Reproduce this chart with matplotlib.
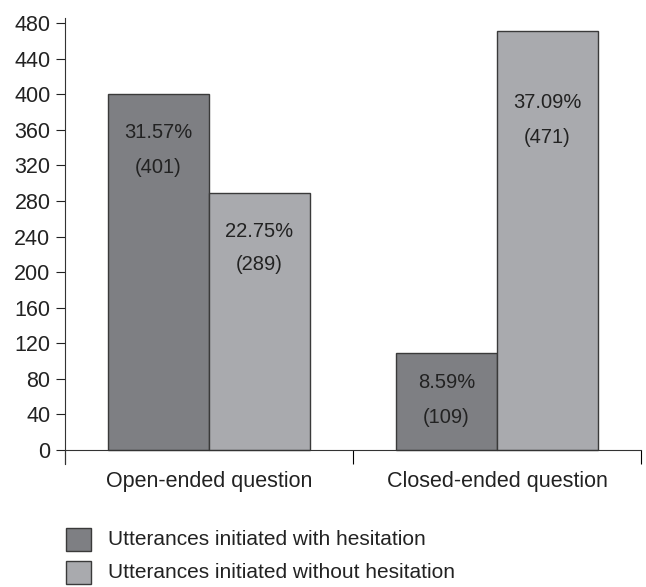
import numpy as np
import matplotlib.pyplot as plt
from matplotlib.patches import Rectangle

plt.rcParams['font.family'] = ['Liberation Sans', 'DejaVu Sans']

categories = ['Open-ended question', 'Closed-ended question']
series_names = ['Utterances initiated with hesitation',
                'Utterances initiated without hesitation']
with_hes = [401, 109]
without_hes = [289, 471]
pct_with = ['31.57%', '8.59%']
pct_without = ['22.75%', '37.09%']

colors = ['#7e7f83', '#a9aaae']
edge = '#3a3a3a'
W, H = 646, 587

fig = plt.figure(figsize=(W / 100, H / 100), dpi=100)
ax = fig.add_axes([65 / W, 1 - 464 / H, 576 / W, 446 / H])

x = np.array([0.5, 1.5])
w = 0.35
ax.bar(x - w / 2, with_hes, w, color=colors[0], edgecolor=edge, linewidth=1)
ax.bar(x + w / 2, without_hes, w, color=colors[1], edgecolor=edge, linewidth=1)

# labels inside bars (offsets in points below bar top)
offs = [[(28.3, 53.5), (21.4, 46.3)], [(27.9, 51.8), (51.5, 76.7)]]
for i in range(2):
    for j, (vals, pcts) in enumerate([(with_hes, pct_with), (without_hes, pct_without)]):
        xc = x[i] + (w / 2 if j else -w / 2)
        o1, o2 = offs[j][i]
        ax.annotate(pcts[i], (xc, vals[i]), xytext=(0, -o1), textcoords='offset points',
                    ha='center', va='center', fontsize=14.5, color='#222222')
        ax.annotate('(%d)' % vals[i], (xc, vals[i]), xytext=(0, -o2), textcoords='offset points',
                    ha='center', va='center', fontsize=14.5, color='#222222')

ax.set_xlim(0, 2)
ax.set_ylim(-16, 486)
ax.set_yticks(np.arange(0, 481, 40))
ax.tick_params(axis='y', labelsize=15.5, length=6.5, width=0.8, pad=4, colors='#222222')
ax.set_xticks([0, 1, 2])
ax.set_xticklabels(['', '', ''])
ax.tick_params(axis='x', which='major', length=10, width=0.8, direction='out')
ax.set_xticks(x, minor=True)
ax.set_xticklabels(categories, minor=True)
ax.tick_params(axis='x', which='minor', length=0, labelsize=15.5, pad=15, labelcolor='#222222')

ax.spines['top'].set_visible(False)
ax.spines['right'].set_visible(False)
ax.spines['bottom'].set_position(('data', 0))
for s in ['left', 'bottom']:
    ax.spines[s].set_linewidth(0.8)
    ax.spines[s].set_color('#333333')

# legend drawn by hand
for k, name in enumerate(series_names):
    yc = 539.5 + k * 32.5
    fig.add_artist(Rectangle((66 / W, 1 - (yc + 11.5) / H), 25 / W, 23 / H,
                             transform=fig.transFigure, facecolor=colors[k],
                             edgecolor=edge, linewidth=1))
    fig.text(108 / W, 1 - yc / H, name, ha='left', va='center', fontsize=15,
             color='#222222')

fig.savefig('out.png', dpi=100)
